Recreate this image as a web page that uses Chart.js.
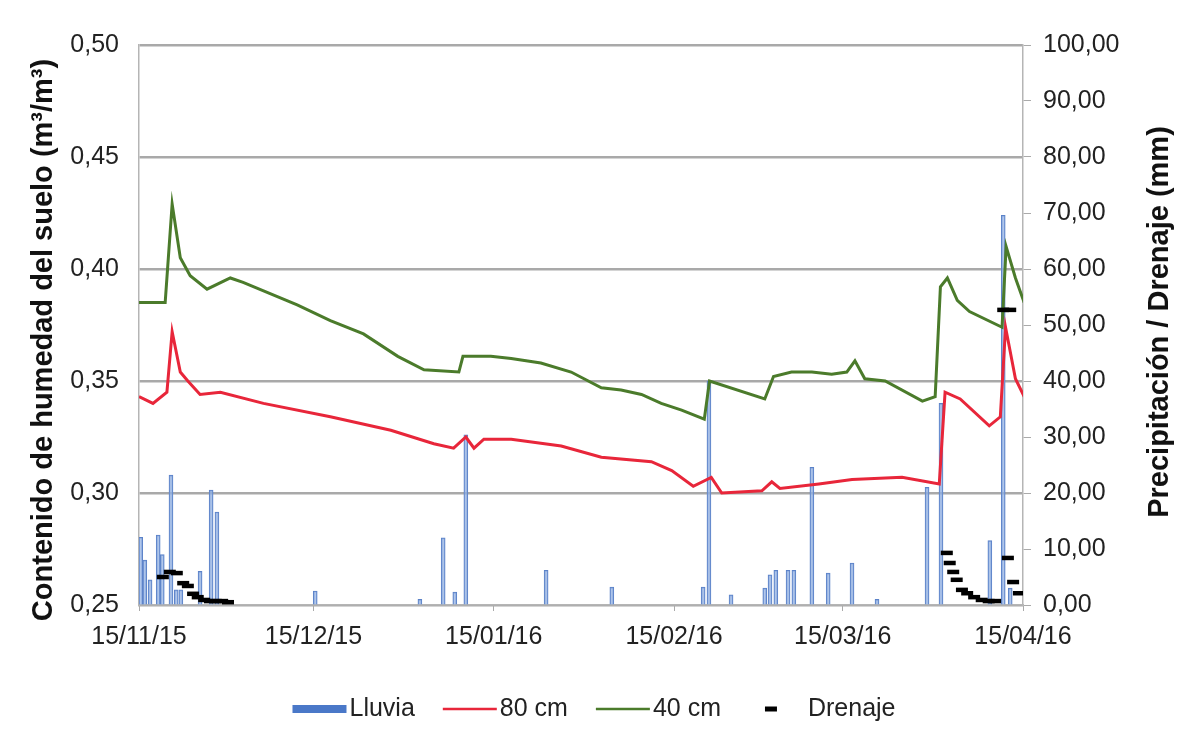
<!DOCTYPE html>
<html>
<head>
<meta charset="utf-8">
<script src="https://cdn.jsdelivr.net/npm/chart.js@4/dist/chart.umd.min.js"></script>
<style>
  html, body { margin: 0; padding: 0; background: #fff; }
  #wrap { width: 1179px; height: 730px; }
</style>
</head>
<body>
<div id="wrap"><canvas id="chart"></canvas></div>
<script>
// x values are days after 15/11/15
var tickDays = [0, 30, 61, 92, 121, 152];
var tickLabels = ['15/11/15', '15/12/15', '15/01/16', '15/02/16', '15/03/16', '15/04/16'];

// 40 cm soil moisture (m3/m3)
var days40 = [0, 4.5, 5.7, 7.1, 8.8, 11.7, 15.7, 17.9, 27.2, 32.9, 38.6, 44.5, 49.0, 55.0, 55.7, 60.5, 64.0, 69.1, 74.3, 79.5, 82.9, 86.4, 89.8, 93.3, 97.2, 98.1, 107.6, 109.1, 112.2, 115.7, 119.1, 121.7, 123.1, 124.8, 128.3, 134.7, 136.9, 137.8, 139.0, 140.7, 142.8, 148.4, 149.1, 150.7, 152.2];
var hum40 = [0.385, 0.385, 0.429, 0.405, 0.397, 0.391, 0.396, 0.394, 0.384, 0.377, 0.371, 0.361, 0.355, 0.354, 0.361, 0.361, 0.360, 0.358, 0.354, 0.347, 0.346, 0.344, 0.340, 0.337, 0.333, 0.350, 0.342, 0.352, 0.354, 0.354, 0.353, 0.354, 0.359, 0.351, 0.350, 0.341, 0.343, 0.392, 0.396, 0.386, 0.381, 0.374, 0.410, 0.396, 0.385];

// 80 cm soil moisture (m3/m3)
var days80 = [0, 2.4, 4.8, 5.7, 7.1, 8.4, 10.5, 14.0, 21.4, 32.9, 43.3, 50.7, 54.1, 56.2, 57.6, 59.3, 64.0, 72.6, 79.5, 88.1, 91.6, 95.3, 98.4, 100.2, 107.1, 108.8, 110.2, 116.9, 122.6, 131.2, 137.6, 138.6, 141.2, 146.2, 148.1, 149.0, 150.7, 152.2];
var hum80 = [0.343, 0.340, 0.345, 0.372, 0.354, 0.350, 0.344, 0.345, 0.340, 0.334, 0.328, 0.322, 0.320, 0.325, 0.320, 0.324, 0.324, 0.321, 0.316, 0.314, 0.310, 0.303, 0.307, 0.300, 0.301, 0.305, 0.302, 0.304, 0.306, 0.307, 0.304, 0.345, 0.342, 0.330, 0.334, 0.374, 0.351, 0.343];

// rain (mm)
var rainDays = [0.3, 1.0, 1.9, 3.3, 4.0, 5.5, 6.4, 7.2, 10.5, 12.4, 13.4, 30.3, 48.3, 52.3, 54.3, 56.2, 70.0, 81.3, 97.0, 98.0, 101.8, 107.6, 108.5, 109.5, 111.6, 112.6, 115.7, 118.5, 122.6, 126.9, 135.5, 137.9, 146.3, 148.6, 149.8];
var rainMm = [12.1, 8, 4.5, 12.5, 9, 23.2, 2.7, 2.7, 6, 20.5, 16.6, 2.5, 1, 12, 2.3, 30.4, 6.2, 3.2, 3.2, 40, 1.8, 3, 5.4, 6.2, 6.2, 6.2, 24.6, 5.7, 7.5, 1, 21, 36, 11.5, 69.6, 3];

// drainage (mm)
var drainDays = [4.1, 5.3, 6.5, 7.6, 8.4, 9.3, 10.1, 11.2, 12.2, 13.2, 14.3, 15.3, 138.9, 139.4, 140.0, 140.6, 141.5, 142.4, 143.6, 144.9, 146.1, 147.2, 148.6, 149.8, 149.4, 150.3, 151.3];
var drainMm = [5.0, 5.9, 5.7, 3.9, 3.4, 2.0, 1.4, 0.9, 0.7, 0.7, 0.7, 0.5, 9.3, 7.5, 5.9, 4.5, 2.7, 2.1, 1.4, 0.9, 0.7, 0.7, 52.7, 52.7, 8.4, 4.1, 2.1];

function pts(xs, ys) {
    return xs.map(function(x, i) { return { x: x, y: ys[i] }; });
}

var fontFam = '"Liberation Sans", Arial, sans-serif';
var comma = function(v, d) { return Number(v).toFixed(d).replace('.', ','); };

// titles + legend drawn by hand (right title reads bottom-up, legend symbols differ)
var extras = {
    id: 'extras',
    afterDraw: function(chart) {
        var ctx = chart.ctx;
        ctx.save();
        ctx.fillStyle = '#111';
        ctx.font = 'bold 29px ' + fontFam;
        ctx.textAlign = 'center';
        ctx.textBaseline = 'middle';
        ctx.translate(44, 340);
        ctx.rotate(-Math.PI / 2);
        ctx.fillText('Contenido de humedad del suelo (m\u00b3/m\u00b3)', 0, 0);
        ctx.restore();

        ctx.save();
        ctx.fillStyle = '#111';
        ctx.font = 'bold 29px ' + fontFam;
        ctx.textAlign = 'center';
        ctx.textBaseline = 'middle';
        ctx.translate(1160, 322);
        ctx.rotate(-Math.PI / 2);
        ctx.fillText('Precipitaci\u00f3n / Drenaje (mm)', 0, 0);
        ctx.restore();

        // legend
        ctx.save();
        ctx.font = '25px ' + fontFam;
        ctx.textBaseline = 'middle';
        var items = [
            { text: 'Lluvia', kind: 'rect', color: '#4a78c8', sym: 54 },
            { text: '80 cm', kind: 'line', color: '#e8263a', sym: 54 },
            { text: '40 cm', kind: 'line', color: '#4b7b2b', sym: 54 },
            { text: 'Drenaje', kind: 'dash', color: '#000', sym: 56 }
        ];
        var gapIn = 3, gapOut = 28;
        var total = 0;
        items.forEach(function(it, i) {
            total += it.sym + gapIn + ctx.measureText(it.text).width + (i < items.length - 1 ? gapOut : 0);
        });
        var x = 594 - total / 2;
        var y = 709;
        items.forEach(function(it) {
            if (it.kind === 'rect') {
                ctx.fillStyle = it.color;
                ctx.fillRect(x, y - 4, it.sym, 8);
            } else if (it.kind === 'line') {
                ctx.strokeStyle = it.color;
                ctx.lineWidth = 2.5;
                ctx.beginPath();
                ctx.moveTo(x, y);
                ctx.lineTo(x + it.sym, y);
                ctx.stroke();
            } else {
                ctx.strokeStyle = it.color;
                ctx.lineWidth = 5;
                ctx.beginPath();
                ctx.moveTo(x + 16, y);
                ctx.lineTo(x + 28, y);
                ctx.stroke();
            }
            x += it.sym + gapIn;
            ctx.fillStyle = '#222';
            ctx.fillText(it.text, x, y);
            x += ctx.measureText(it.text).width + gapOut;
        });
        ctx.restore();
    }
};

var ctx = document.getElementById('chart').getContext('2d');
var chart = new Chart(ctx, {
    type: 'bar',
    data: {
        datasets: [
            {
                type: 'line',
                label: 'Drenaje',
                data: pts(drainDays, drainMm),
                yAxisID: 'y1',
                showLine: false,
                pointStyle: 'line',
                pointRadius: 6,
                pointHoverRadius: 6,
                pointBorderWidth: 4.5,
                borderColor: '#000',
                backgroundColor: '#000',
                order: 0
            },
            {
                type: 'line',
                label: '80 cm',
                data: pts(days80, hum80),
                yAxisID: 'y',
                borderColor: '#e8263a',
                borderWidth: 3,
                pointRadius: 0,
                tension: 0,
                order: 1
            },
            {
                type: 'line',
                label: '40 cm',
                data: pts(days40, hum40),
                yAxisID: 'y',
                borderColor: '#4b7b2b',
                borderWidth: 3,
                pointRadius: 0,
                tension: 0,
                order: 2
            },
            {
                type: 'bar',
                label: 'Lluvia',
                data: pts(rainDays, rainMm),
                yAxisID: 'y1',
                backgroundColor: 'rgba(150,180,228,0.7)',
                borderColor: '#5b82c8',
                borderWidth: 1,
                barThickness: 4,
                order: 3
            }
        ]
    },
    options: {
        responsive: true,
        maintainAspectRatio: false,
        animation: false,
        layout: { padding: { top: 45, left: 0, right: 0, bottom: 70 } },
        plugins: {
            legend: { display: false },
            tooltip: { enabled: false }
        },
        scales: {
            x: {
                type: 'linear',
                min: 0,
                max: 152,
                offset: false,
                afterBuildTicks: function(scale) {
                    scale.ticks = tickDays.map(function(d) { return { value: d }; });
                },
                afterFit: function(scale) { scale.height = 55; },
                grid: { drawOnChartArea: false, drawTicks: true, tickLength: 6, color: '#aaa', offset: false },
                border: { color: '#b5b5b5', width: 1.5 },
                ticks: {
                    autoSkip: false,
                    maxRotation: 0,
                    padding: 11,
                    color: '#222',
                    font: { family: fontFam, size: 25 },
                    callback: function(v) {
                        var i = tickDays.indexOf(v);
                        return i >= 0 ? tickLabels[i] : '';
                    }
                }
            },
            y: {
                position: 'left',
                min: 0.25,
                max: 0.5,
                afterFit: function(scale) { scale.width = 139; },
                grid: { color: '#a9a9a9', lineWidth: 2.5, drawTicks: false },
                border: { color: '#b5b5b5', width: 1.5 },
                ticks: {
                    stepSize: 0.05,
                    padding: 20,
                    color: '#222',
                    font: { family: fontFam, size: 25 },
                    callback: function(v) { return comma(v, 2); }
                }
            },
            y1: {
                position: 'right',
                min: 0,
                max: 100,
                afterFit: function(scale) { scale.width = 156; },
                grid: { drawOnChartArea: false, drawTicks: true, tickLength: 8, color: '#aaa' },
                border: { color: '#b5b5b5', width: 1.5 },
                ticks: {
                    stepSize: 10,
                    padding: 12,
                    color: '#222',
                    font: { family: fontFam, size: 25 },
                    callback: function(v) { return comma(v, 2); }
                }
            }
        }
    },
    plugins: [extras]
});
</script>
</body>
</html>
